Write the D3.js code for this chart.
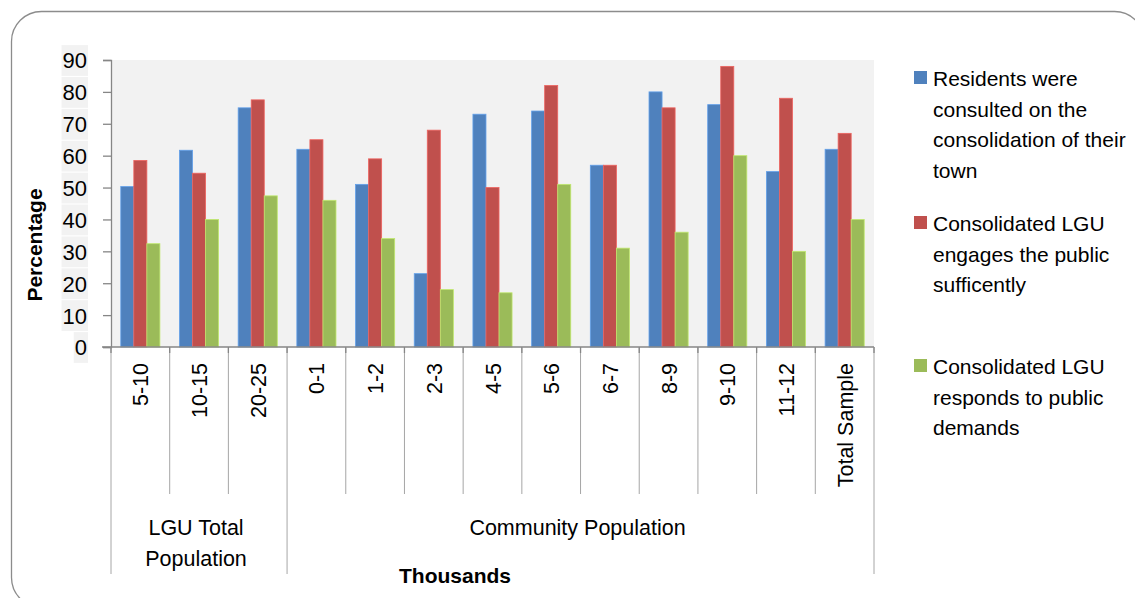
<!DOCTYPE html>
<html>
<head>
<meta charset="utf-8">
<script src="https://cdn.jsdelivr.net/npm/d3@7"></script>
<style>
  html, body { margin: 0; padding: 0; background: #fff; }
  svg { display: block; font-family: "Liberation Sans", Arial, sans-serif; }
</style>
</head>
<body>
<svg id="chart" width="1135" height="598"></svg>
<script>
// Survey responses by population band (percent)
const categories = ["5-10", "10-15", "20-25", "0-1", "1-2", "2-3", "4-5", "5-6", "6-7", "8-9", "9-10", "11-12", "Total Sample"];
const groups = [
  { name: ["LGU Total", "Population"], from: 0, to: 2 },
  { name: ["Community Population"], from: 3, to: 12 }
];
const seriesNames = [
  ["Residents were", "consulted on the", "consolidation of their", "town"],
  ["Consolidated LGU", "engages the public", "sufficently"],
  ["Consolidated LGU", "responds to public", "demands"]
];
const consulted = [50.3, 61.7, 75, 62, 51, 23, 73, 74, 57, 80, 76, 55, 62];
const engages   = [58.5, 54.5, 77.5, 65, 59, 68, 50, 82, 57, 75, 88, 78, 67];
const responds  = [32.4, 40, 47.4, 46, 34, 18, 17, 51, 31, 36, 60, 30, 40];
const yTicks = [0, 10, 20, 30, 40, 50, 60, 70, 80, 90];
const colors = ["#4F81BD", "#C0504D", "#9BBB59"];
const seriesValues = [consulted, engages, responds];

const svg = d3.select("#chart");

// Rounded frame around the whole chart
svg.append("rect")
  .attr("x", 11.5).attr("y", 11.5)
  .attr("width", 1133).attr("height", 596)
  .attr("rx", 30).attr("ry", 30)
  .attr("fill", "#fff").attr("stroke", "#8c8c8c").attr("stroke-width", 1.3);

const plot = { left: 111, right: 874, top: 60, bottom: 347 };

const x = d3.scaleBand().domain(d3.range(categories.length))
  .range([plot.left, plot.right]).paddingInner(0).paddingOuter(0);
const xs = d3.scaleBand().domain([0, 1, 2])
  .range([0, x.bandwidth()]).paddingOuter(0.75).paddingInner(0);
const y = d3.scaleLinear().domain([0, 90]).range([plot.bottom, plot.top]);

// Plot background
svg.append("rect")
  .attr("x", plot.left).attr("y", plot.top)
  .attr("width", plot.right - plot.left).attr("height", plot.bottom - plot.top)
  .attr("fill", "#F2F2F2");

// Bars
seriesValues.forEach((vals, s) => {
  svg.append("g").selectAll("rect")
    .data(vals)
    .join("rect")
    .attr("x", (d, i) => x(i) + xs(s))
    .attr("y", d => y(d))
    .attr("width", xs.bandwidth())
    .attr("height", d => y(0) - y(d))
    .attr("fill", colors[s])
    .attr("stroke", d3.color(colors[s]).brighter(0.6))
    .attr("stroke-width", 0.8);
});

// Y axis
const yAxis = svg.append("g")
  .attr("transform", `translate(${plot.left},0)`)
  .call(d3.axisLeft(y).tickValues(yTicks).tickSize(8).tickPadding(0).tickFormat(d3.format("d")));
yAxis.select(".domain").attr("stroke", "#868686").attr("stroke-width", 1.3);
yAxis.selectAll(".tick line").attr("stroke", "#868686").attr("stroke-width", 1.3);
yAxis.selectAll(".tick text")
  .attr("x", -24).attr("dy", "0.36em")
  .attr("font-size", 22).attr("fill", "#000")
  .attr("font-family", "Liberation Sans, Arial, sans-serif");
// light label backgrounds behind the tick numbers
yAxis.selectAll(".tick").each(function () {
  const t = d3.select(this).select("text");
  const bb = t.node().getBBox();
  d3.select(this).insert("rect", "text")
    .attr("x", bb.x - 1).attr("y", -15.4)
    .attr("width", bb.width + 2).attr("height", 30.8)
    .attr("fill", "#F2F2F2");
});

// X axis baseline
svg.append("line")
  .attr("x1", plot.left - 9).attr("x2", plot.right)
  .attr("y1", plot.bottom).attr("y2", plot.bottom)
  .attr("stroke", "#868686").attr("stroke-width", 1.3);

// Category separators
const boundaries = d3.range(categories.length + 1);
const groupEdges = new Set([0, 3, categories.length]);
svg.append("g").selectAll("line")
  .data(boundaries)
  .join("line")
  .attr("x1", i => i < categories.length ? x(i) : plot.right)
  .attr("x2", i => i < categories.length ? x(i) : plot.right)
  .attr("y1", plot.bottom)
  .attr("y2", i => groupEdges.has(i) ? 574 : 494)
  .attr("stroke", "#a6a6a6").attr("stroke-width", 1);
svg.append("g").selectAll("line")
  .data(boundaries)
  .join("line")
  .attr("x1", i => i < categories.length ? x(i) : plot.right)
  .attr("x2", i => i < categories.length ? x(i) : plot.right)
  .attr("y1", plot.bottom).attr("y2", plot.bottom + 6)
  .attr("stroke", "#868686").attr("stroke-width", 1.3);

// Category labels (rotated)
svg.append("g").selectAll("text")
  .data(categories)
  .join("text")
  .attr("transform", (d, i) => `translate(${x(i) + x.bandwidth() / 2 + 8},363) rotate(-90)`)
  .attr("text-anchor", "end")
  .attr("font-size", 21.5)
  .attr("fill", "#000")
  .text(d => d);

// Group labels
groups.forEach(g => {
  const cx = (x(g.from) + x(g.to) + x.bandwidth()) / 2;
  g.name.forEach((line, k) => {
    svg.append("text")
      .attr("x", cx - 3).attr("y", 535 + k * 31)
      .attr("text-anchor", "middle")
      .attr("font-size", 21.5).attr("fill", "#000")
      .text(line);
  });
});

// Axis titles
svg.append("text")
  .attr("x", 455).attr("y", 583)
  .attr("text-anchor", "middle")
  .attr("font-size", 21).attr("font-weight", "bold")
  .text("Thousands");
svg.append("text")
  .attr("transform", "translate(42,245) rotate(-90)")
  .attr("text-anchor", "middle")
  .attr("font-size", 21).attr("font-weight", "bold")
  .text("Percentage");

// Legend
const legendTops = [71, 216, 359];
const legend = svg.append("g");
seriesNames.forEach((lines, s) => {
  legend.append("rect")
    .attr("x", 914).attr("y", legendTops[s])
    .attr("width", 13).attr("height", 13)
    .attr("fill", colors[s]);
  lines.forEach((ln, k) => {
    legend.append("text")
      .attr("x", 933).attr("y", legendTops[s] + 15 + k * 30.5)
      .attr("font-size", 21).attr("fill", "#000")
      .text(ln);
  });
});
</script>
</body>
</html>
